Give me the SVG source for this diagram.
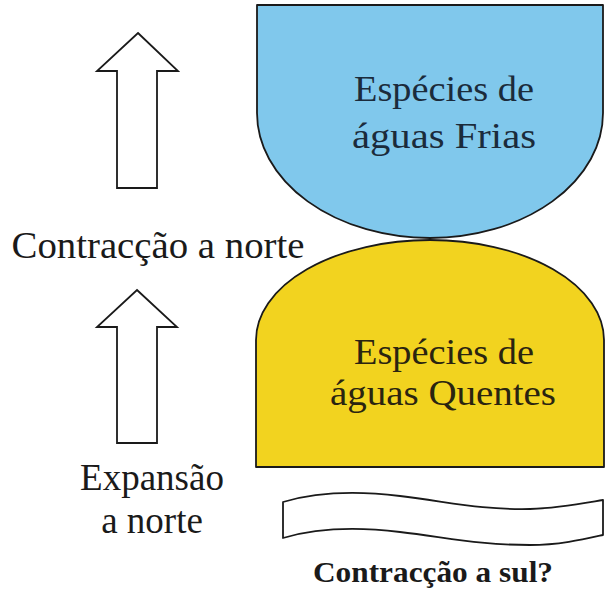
<svg xmlns="http://www.w3.org/2000/svg" width="608" height="593" viewBox="0 0 608 593">
<style>
.shape{stroke:#1a1a1a;stroke-width:1.8;stroke-linejoin:round}
.arrow{fill:#fff;stroke:#1a1a1a;stroke-width:1.8;stroke-linejoin:miter}
text{font-family:'Liberation Serif',serif;text-anchor:middle}
.in{font-size:36px}
.lbl{font-size:37px;fill:#1a1a1a}
</style>
<rect width="608" height="593" fill="#fff"/>
<g id="frias">
<path class="shape" fill="#80c8ec" d="M257,5 L603,5 L603,113 A173,125 0 0 1 430,238 A173,125 0 0 1 257,113 Z"/>
<text class="in" font-family="Liberation Serif, serif" fill="#1b2b3b" x="444" y="101" textLength="180" lengthAdjust="spacingAndGlyphs">Espécies de</text>
<text class="in" font-family="Liberation Serif, serif" fill="#1b2b3b" x="444" y="148" textLength="184" lengthAdjust="spacingAndGlyphs">águas Frias</text>
</g>
<g id="quentes">
<path class="shape" fill="#f2d31f" d="M256,467 L256,340 A174,100 0 0 1 430,240 A174,100 0 0 1 604,340 L604,467 Z"/>
<text class="in" font-family="Liberation Serif, serif" fill="#2a2410" x="444" y="364" textLength="180" lengthAdjust="spacingAndGlyphs">Espécies de</text>
<text class="in" font-family="Liberation Serif, serif" fill="#2a2410" x="443" y="405" textLength="226" lengthAdjust="spacingAndGlyphs">águas Quentes</text>
</g>
<g id="contraccao-sul">
<path class="shape" fill="#fff" d="M283,502 C310,494 350,490 400,496 C450,502 480,510 530,509 C560,508 585,503 603,500 L603,535 C585,539 560,545 530,545 C480,545 450,538 400,532 C350,526 310,530 283,538 Z"/>
<text font-family="Liberation Serif, serif" x="433" y="582" font-size="30" font-weight="bold" fill="#1a1a1a" textLength="240" lengthAdjust="spacingAndGlyphs">Contracção a sul?</text>
</g>
<g id="contraccao-norte">
<path class="arrow" d="M138,33 L178,71 L157,71 L157,188 L117,188 L117,71 L97,71 Z"/>
<text class="lbl" font-family="Liberation Serif, serif" x="158" y="258" textLength="293" lengthAdjust="spacingAndGlyphs">Contracção a norte</text>
</g>
<g id="expansao-norte">
<path class="arrow" d="M137,290 L177,327 L157,327 L157,443 L117,443 L117,327 L97,327 Z"/>
<text class="lbl" font-family="Liberation Serif, serif" x="152" y="490">Expansão</text>
<text class="lbl" font-family="Liberation Serif, serif" x="152" y="533">a norte</text>
</g>
<g id="connectors"></g>
</svg>
